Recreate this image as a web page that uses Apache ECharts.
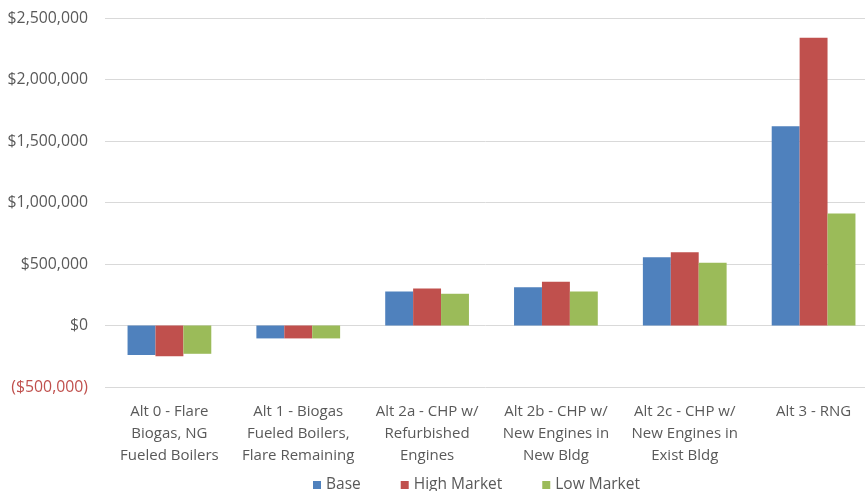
<!DOCTYPE html>
<html><head><meta charset="utf-8">
<script src="https://cdn.jsdelivr.net/npm/echarts@6/dist/echarts.min.js"></script>
<style>html,body{margin:0;padding:0;background:#fff}#c{width:865px;height:491px}</style>
</head><body><div id="c"></div>
<script>
const categories = ["Alt 0 - Flare\nBiogas, NG\nFueled Boilers","Alt 1 - Biogas\nFueled Boilers,\nFlare Remaining","Alt 2a - CHP w/\nRefurbished\nEngines","Alt 2b - CHP w/\nNew Engines in\nNew Bldg","Alt 2c - CHP w/\nNew Engines in\nExist Bldg","Alt 3 - RNG"];
const baseValues = [-240000,-105000,276000,311000,555000,1620000];
const highValues = [-250000,-105000,300000,355000,595000,2340000];
const lowValues = [-230000,-105000,258000,276000,511000,910000];
const seriesNames = ["Base","High Market","Low Market"];
const FONT = '"Open Sans",sans-serif';
function fmt(v){const s='$'+Math.abs(v).toLocaleString('en-US');return v<0?'('+s+')':s;}
const chart = echarts.init(document.getElementById('c'));
chart.setOption({
  animation:false,
  grid:{left:105,width:773,top:18,bottom:104,outerBoundsMode:'none',containLabel:false},
  legend:{top:472,left:308,itemWidth:8,itemHeight:8,itemGap:40,icon:'rect',
    textStyle:{color:'#595959',fontSize:15.5,fontFamily:FONT}},
  xAxis:{type:'category',data:categories,
    axisLine:{onZero:false,show:false},axisTick:{show:false},
    axisLabel:{color:'#595959',fontSize:15,fontFamily:FONT,lineHeight:22,margin:14,interval:0}},
  yAxis:{type:'value',min:-500000,max:2500000,interval:500000,
    axisLine:{show:false},axisTick:{show:false},
    splitLine:{lineStyle:{color:'#d9d9d9',width:1}},
    axisLabel:{fontSize:15.8,fontFamily:FONT,margin:17,
      formatter:function(v){return v<0?'{neg|'+fmt(v)+'}':fmt(v);},
      color:'#595959',rich:{neg:{color:'#c0504d',fontSize:15.8,fontFamily:FONT}}}},
  series:[
    {name:seriesNames[0],type:'bar',data:baseValues,itemStyle:{color:'#4f81bd'},barGap:'0%',barCategoryGap:'35%'},
    {name:seriesNames[1],type:'bar',data:highValues,itemStyle:{color:'#c0504d'},barGap:'0%',barCategoryGap:'35%'},
    {name:seriesNames[2],type:'bar',data:lowValues,itemStyle:{color:'#9bbb59'},barGap:'0%',barCategoryGap:'35%'}
  ]
});
</script></body></html>
